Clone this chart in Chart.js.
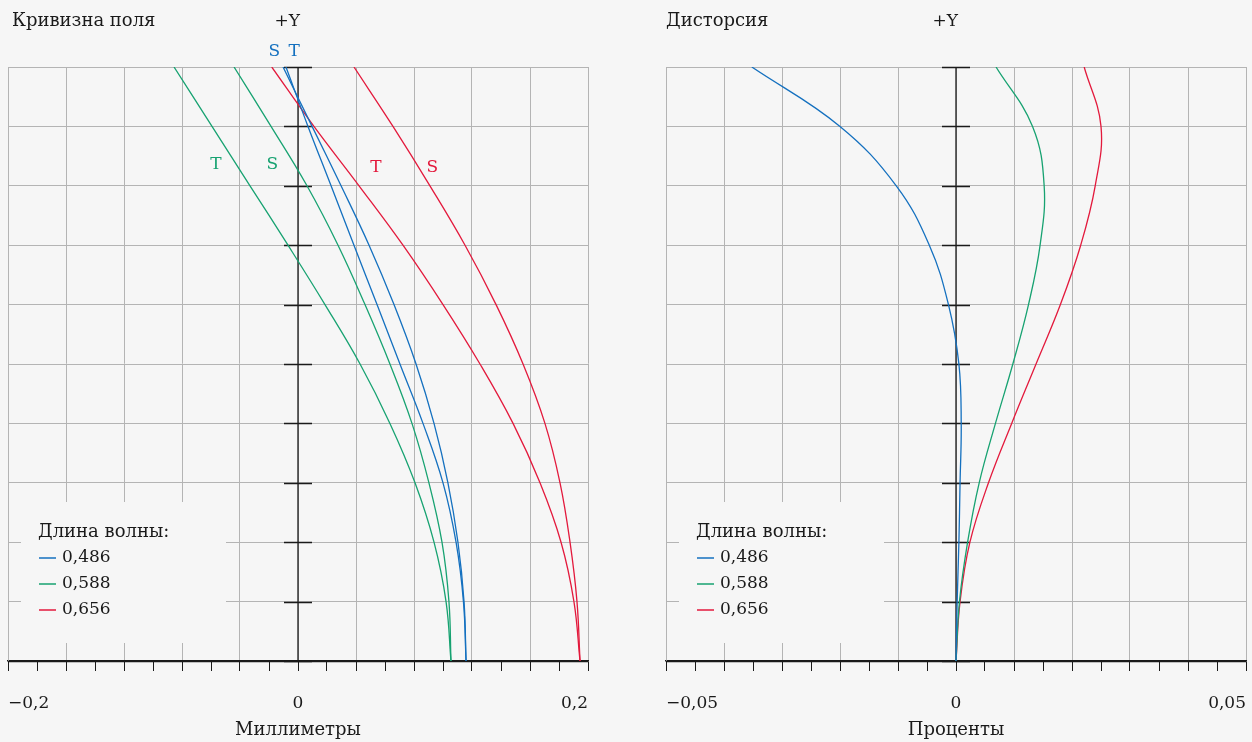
<!DOCTYPE html>
<html>
<head>
<meta charset="utf-8">
<script src="https://cdn.jsdelivr.net/npm/chart.js@4.4.0/dist/chart.umd.min.js"></script>
<style>
  body { margin: 0; background: #f6f6f6; }
  .wrap { position: relative; width: 1252px; height: 742px; }
  .pane { position: absolute; top: 0; width: 626px; height: 742px; }
</style>
</head>
<body>
<div class="wrap">
  <div class="pane" style="left:0"><canvas id="fieldChart"></canvas></div>
  <div class="pane" style="left:626px"><canvas id="distChart"></canvas></div>
</div>
<script>
// относительная высота поля, снизу вверх
var fieldLevels = [0, 0.1, 0.2, 0.3, 0.4, 0.5, 0.6, 0.7, 0.8, 0.9, 1];
var wavelengths = ['0,486', '0,588', '0,656'];
var colors = ['#1470bf', '#17a271', '#e3193c'];

// кривизна поля, мм
var curvS486 = [0.1159, 0.1145, 0.1103, 0.1034, 0.0938, 0.0814, 0.0662, 0.0490, 0.0297, 0.0097, -0.0103];
var curvT486 = [0.1159, 0.1141, 0.1090, 0.1000, 0.0862, 0.0703, 0.0545, 0.0386, 0.0228, 0.0069, -0.0083];
var curvS588 = [0.1055, 0.1041, 0.0993, 0.0903, 0.0786, 0.0634, 0.0462, 0.0276, 0.0062, -0.0186, -0.0441];
var curvT588 = [0.1055, 0.1021, 0.0938, 0.0807, 0.0634, 0.0428, 0.0186, -0.0069, -0.0331, -0.0593, -0.0855];
var curvS656 = [0.1945, 0.1924, 0.1876, 0.1807, 0.1703, 0.1552, 0.1366, 0.1152, 0.0910, 0.0655, 0.0386];
var curvT656 = [0.1945, 0.1903, 0.1814, 0.1669, 0.1483, 0.1255, 0.1000, 0.0724, 0.0421, 0.0110, -0.0181];

// дисторсия, %
var dist486 = [0, 0.0002, 0.0005, 0.0007, 0.0009, 0.0005, -0.0013, -0.0046, -0.0103, -0.0200, -0.0352];
var dist588 = [0, 0.0006, 0.0020, 0.0040, 0.0068, 0.0098, 0.0125, 0.0145, 0.0152, 0.0132, 0.0069];
var dist656 = [0, 0.0007, 0.0024, 0.0056, 0.0096, 0.0138, 0.0180, 0.0215, 0.0240, 0.0250, 0.0221];

// подписи осей
var curvTickValues = [-0.2, 0, 0.2];
var curvTickLabels = ['−0,2', '0', '0,2'];
var distTickValues = [-0.05, 0, 0.05];
var distTickLabels = ['−0,05', '0', '0,05'];

// метки S / T на кривых (в единицах графика)
var markText = ['S', 'T', 'T', 'S', 'T', 'S'];
var markColor = [0, 0, 1, 1, 2, 2];
var markX = [-0.0163, -0.0026, -0.0566, -0.0177, 0.0538, 0.0926];
var markY = [1.0258, 1.0258, 0.835, 0.835, 0.831, 0.831];

var BG = '#f6f6f6';
var INK = '#1a1a1a';
var GRID = '#b4b4b4';
var FONT = '"DejaVu Serif", serif';

function pts(values) {
  return values.map(function(v, i) { return { x: v, y: fieldLevels[i] }; });
}

function line(label, values, color) {
  return {
    label: label,
    data: pts(values),
    borderColor: color,
    borderWidth: 1.3,
    pointRadius: 0,
    showLine: true,
    fill: false,
    tension: 0.4
  };
}

var decor = {
  id: 'decor',
  beforeDatasetsDraw: function(chart, args, o) {
    var ctx = chart.ctx, a = chart.chartArea;
    var xs = chart.scales.x, ys = chart.scales.y;
    var x0 = xs.getPixelForValue(0);
    ctx.save();
    // центральная ось с засечками
    ctx.strokeStyle = INK;
    ctx.lineWidth = 1.3;
    ctx.beginPath();
    ctx.moveTo(x0, a.top);
    ctx.lineTo(x0, a.bottom);
    ys.ticks.forEach(function(t) {
      var y = Math.round(ys.getPixelForValue(t.value)) + 0.5;
      ctx.moveTo(x0 - 14, y);
      ctx.lineTo(x0 + 14, y);
    });
    ctx.stroke();
    ctx.lineWidth = 1.5;
    ctx.beginPath();
    ctx.moveTo(a.left, a.bottom + 0.5);
    ctx.lineTo(a.right, a.bottom + 0.5);
    ctx.stroke();

    // легенда
    ctx.fillStyle = BG;
    ctx.fillRect(a.left + 13, a.bottom - 159, 205, 141);
    ctx.fillStyle = INK;
    ctx.textAlign = 'left';
    ctx.textBaseline = 'middle';
    ctx.font = '18px ' + FONT;
    ctx.fillText('Длина волны:', a.left + 30, a.bottom - 129);
    ctx.font = '17px ' + FONT;
    wavelengths.forEach(function(w, i) {
      var y = a.bottom - 103 + i * 26;
      ctx.strokeStyle = colors[i];
      ctx.lineWidth = 1.5;
      ctx.beginPath();
      ctx.moveTo(a.left + 31, y);
      ctx.lineTo(a.left + 48, y);
      ctx.stroke();
      ctx.fillStyle = INK;
      ctx.fillText(w, a.left + 54, y);
    });

    // заголовки
    ctx.font = '18px ' + FONT;
    ctx.fillText(o.title, a.left + o.titleDx, 21);
    ctx.font = '17px ' + FONT;
    ctx.textAlign = 'right';
    ctx.fillText('+Y', x0 + 2, 22);

    if (o.marks) {
      ctx.textAlign = 'center';
      markText.forEach(function(t, i) {
        ctx.fillStyle = colors[markColor[i]];
        ctx.fillText(t, xs.getPixelForValue(markX[i]), ys.getPixelForValue(markY[i]));
      });
    }
    ctx.restore();
  }
};

function makeChart(id, datasets, xMin, xMax, step, tickValues, tickLabels, axisTitle, padding, plug) {
  return new Chart(document.getElementById(id), {
    type: 'scatter',
    data: { datasets: datasets },
    plugins: [decor],
    options: {
      responsive: true,
      maintainAspectRatio: false,
      animation: false,
      devicePixelRatio: 1,
      layout: { padding: padding },
      plugins: {
        legend: { display: false },
        tooltip: { enabled: false },
        decor: plug
      },
      scales: {
        x: {
          type: 'linear',
          min: xMin,
          max: xMax,
          afterFit: function(s) {
            s.height = 81;
            s.paddingLeft = 0;
            s.paddingRight = 0;
          },
          ticks: {
            stepSize: step,
            autoSkip: false,
            maxRotation: 0,
            align: 'inner',
            padding: 22,
            color: INK,
            font: { family: FONT, size: 17 },
            callback: function(v) {
              for (var k = 0; k < tickValues.length; k++) {
                if (Math.abs(v - tickValues[k]) < step / 10) return tickLabels[k];
              }
              return '';
            }
          },
          grid: {
            color: function(c) { return c.index % 2 === 0 ? GRID : 'rgba(0,0,0,0)'; },
            tickColor: INK,
            tickLength: 10,
            lineWidth: 1
          },
          border: { color: INK, width: 1.5 },
          title: {
            display: true,
            text: axisTitle,
            color: INK,
            font: { family: FONT, size: 18 },
            padding: { top: 0, bottom: 1 }
          }
        },
        y: {
          type: 'linear',
          min: 0,
          max: 1,
          afterFit: function(s) {
            s.width = 0;
            s.paddingTop = 0;
            s.paddingBottom = 0;
          },
          ticks: { display: false, stepSize: 0.1 },
          grid: { color: GRID, drawTicks: false, lineWidth: 1 },
          border: { color: GRID }
        }
      }
    }
  });
}

makeChart('fieldChart', [
  line('0,486 S', curvS486, colors[0]),
  line('0,486 T', curvT486, colors[0]),
  line('0,588 S', curvS588, colors[1]),
  line('0,588 T', curvT588, colors[1]),
  line('0,656 S', curvS656, colors[2]),
  line('0,656 T', curvT656, colors[2])
], -0.2, 0.2, 0.02, curvTickValues, curvTickLabels, 'Миллиметры',
  { left: 8, right: 38, top: 67, bottom: 0 },
  { title: 'Кривизна поля', titleDx: 4, marks: true });

makeChart('distChart', [
  line('0,486', dist486, colors[0]),
  line('0,588', dist588, colors[1]),
  line('0,656', dist656, colors[2])
], -0.05, 0.05, 0.005, distTickValues, distTickLabels, 'Проценты',
  { left: 40, right: 6, top: 67, bottom: 0 },
  { title: 'Дисторсия', titleDx: 0, marks: false });
</script>
</body>
</html>
